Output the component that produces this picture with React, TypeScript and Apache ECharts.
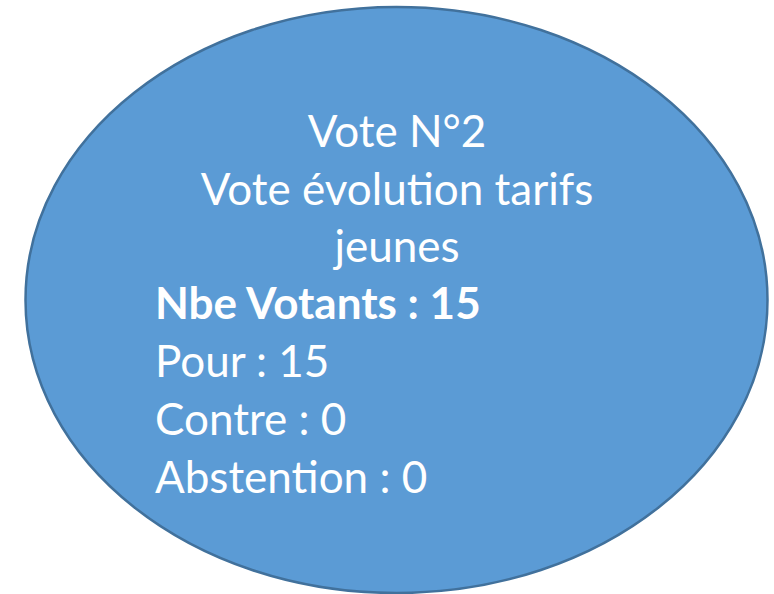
import React, { useEffect, useRef } from "react";
import * as echarts from "echarts";

const titleLines: string[] = ["Vote N°2", "Vote évolution tarifs", "jeunes"];
const statLabels: string[] = ["Nbe Votants", "Pour", "Contre", "Abstention"];
const statValues: number[] = [15, 15, 0, 0];

export default function App() {
  const ref = useRef<HTMLDivElement>(null);
  useEffect(() => {
    if (!ref.current) return;
    const chart = echarts.init(ref.current, null, { renderer: "svg" });
    const font = "Lato, 'Open Sans', sans-serif";
    const fontSize = 44;
    const lineGap = 57.5;
    const firstBaseline = 145;
    const elements: any[] = [
      {
        type: "ellipse",
        shape: { cx: 396.5, cy: 300, rx: 371, ry: 293 },
        style: { fill: "#5B9BD5", stroke: "#41719C", lineWidth: 2.5 },
      },
    ];
    titleLines.forEach((t, i) => {
      elements.push({
        type: "text",
        x: 397,
        y: firstBaseline + i * lineGap - 15,
        style: {
          text: t,
          fill: "#ffffff",
          font: `normal ${fontSize}px ${font}`,
          align: "center",
          verticalAlign: "middle",
        },
      });
    });
    statLabels.forEach((l, i) => {
      elements.push({
        type: "text",
        x: 155,
        y: 317 + i * 58 - 15,
        style: {
          text: `${l} : ${statValues[i]}`,
          fill: "#ffffff",
          font: `${i === 0 ? "bold" : "normal"} ${fontSize}px ${font}`,
          align: "left",
          verticalAlign: "middle",
        },
      });
    });
    chart.setOption({ animation: false, graphic: { elements } });
    return () => chart.dispose();
  }, []);
  return <div ref={ref} style={{ width: 774, height: 594, position: "absolute", left: 0, top: 0 }} />;
}
